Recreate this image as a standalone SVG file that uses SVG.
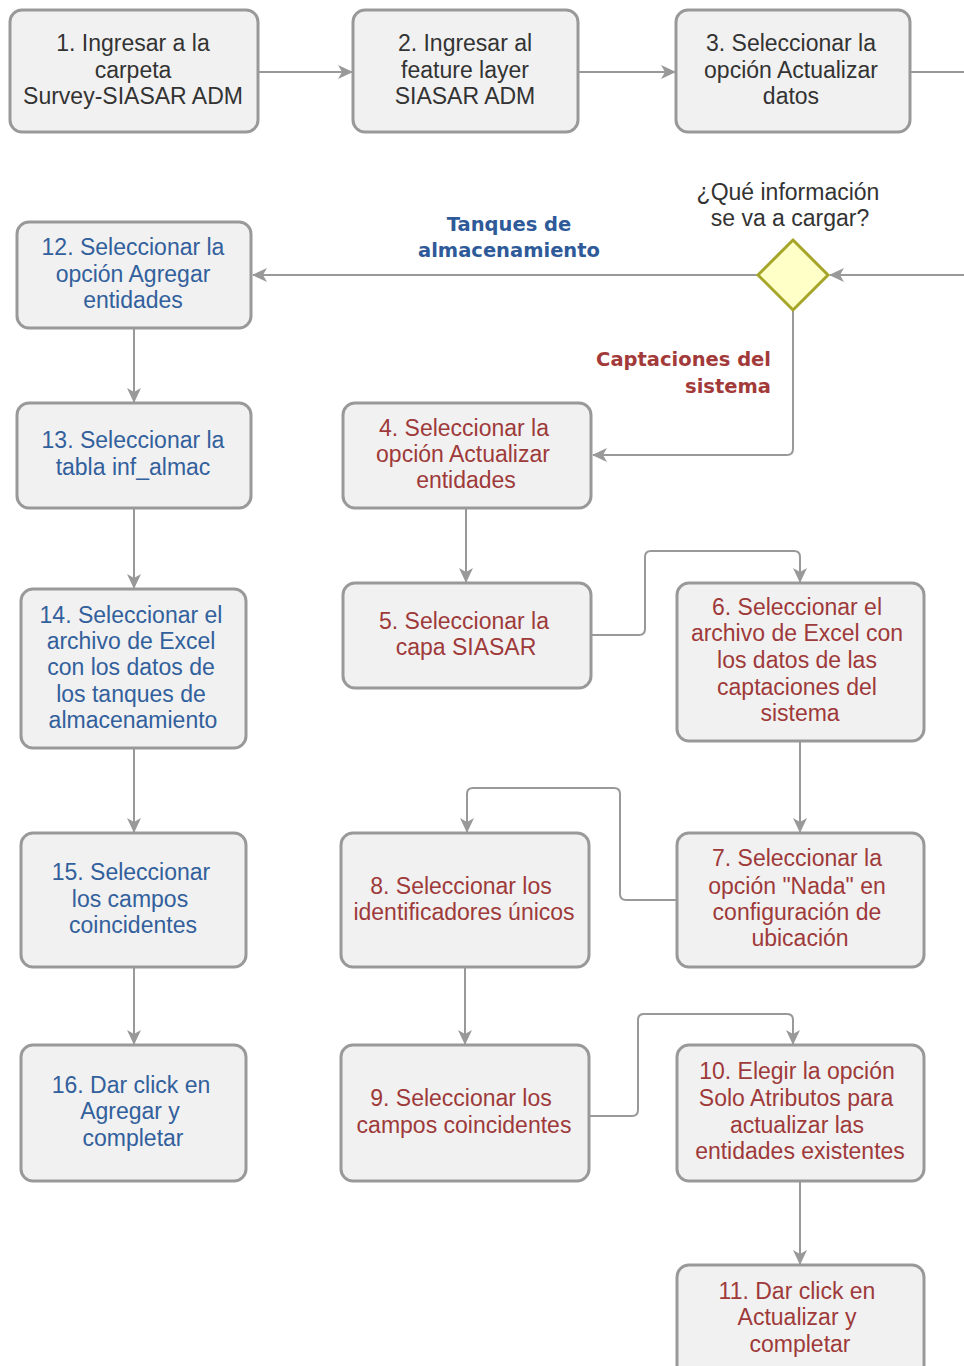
<svg xmlns="http://www.w3.org/2000/svg" width="964" height="1366" viewBox="0 0 964 1366">
<defs>
<marker id="ah" markerWidth="16" markerHeight="16" refX="14" refY="8" orient="auto" markerUnits="userSpaceOnUse">
<path d="M0,1 L15,8 L0,15 L4,8 Z" fill="#999"/>
</marker>
<style>
.box{fill:#f1f1f1;stroke:#999;stroke-width:3}
.t{font-family:"Liberation Sans",Arial,sans-serif;font-size:23px;text-anchor:middle}
.k{fill:#333}
.b{fill:#32609c}
.r{fill:#9e3a3a}
.lb{font-family:"DejaVu Sans",Verdana,sans-serif;font-size:19.5px;font-weight:bold}
.c{fill:none;stroke:#999;stroke-width:2;marker-end:url(#ah)}
.cn{fill:none;stroke:#999;stroke-width:2}
</style>
</defs>
<rect width="964" height="1366" fill="#fff"/>
<g id="connectors">
<path class="c" d="M258,72 H352"/>
<path class="c" d="M578,72 H675"/>
<path class="cn" d="M910,72 H964"/>
<path class="c" d="M964,275 H830"/>
<path class="c" d="M757,275 H253"/>
<path class="c" d="M793,310 V449 Q793,455 787,455 H593"/>
<path class="c" d="M134,328 V402"/>
<path class="c" d="M134,508 V588"/>
<path class="c" d="M134,748 V832"/>
<path class="c" d="M134,967 V1044"/>
<path class="c" d="M466,508 V582"/>
<path class="c" d="M591,635 H639 Q645,635 645,629 V557 Q645,551 651,551 H794 Q800,551 800,557 V582"/>
<path class="c" d="M800,741 V832"/>
<path class="c" d="M677,900 H626 Q620,900 620,894 V794 Q620,788 614,788 H473 Q467,788 467,794 V832"/>
<path class="c" d="M465,967 V1044"/>
<path class="c" d="M589,1116 H632 Q638,1116 638,1110 V1020 Q638,1014 644,1014 H787 Q793,1014 793,1020 V1044"/>
<path class="c" d="M800,1181 V1264"/>
<text class="lb" x="509" y="231" text-anchor="middle" fill="#2e5a99">Tanques de</text>
<text class="lb" x="509" y="257" text-anchor="middle" fill="#2e5a99">almacenamiento</text>
<text class="lb" x="771" y="366" text-anchor="end" fill="#a33a3a">Captaciones del</text>
<text class="lb" x="771" y="393" text-anchor="end" fill="#a33a3a">sistema</text>
</g>
<g id="n1"><rect class="box" x="10" y="10" width="248" height="122" rx="12"/>
<text class="t k" x="133" y="51">1. Ingresar a la</text><text class="t k" x="133" y="78">carpeta</text><text class="t k" x="133" y="104">Survey-SIASAR ADM</text></g>
<g id="n2"><rect class="box" x="353" y="10" width="225" height="122" rx="12"/>
<text class="t k" x="465" y="51">2. Ingresar al</text><text class="t k" x="465" y="78">feature layer</text><text class="t k" x="465" y="104">SIASAR ADM</text></g>
<g id="n3"><rect class="box" x="676" y="10" width="234" height="122" rx="12"/>
<text class="t k" x="791" y="51">3. Seleccionar la</text><text class="t k" x="791" y="78">opción Actualizar</text><text class="t k" x="791" y="104">datos</text></g>
<g id="decision"><path d="M793,240 L828,275 L793,310 L758,275 Z" fill="#ffffc8" stroke="#a5a52a" stroke-width="3"/>
<text class="t k" x="788" y="200">¿Qué información</text><text class="t k" x="790" y="226">se va a cargar?</text></g>
<g id="n12"><rect class="box" x="17" y="222" width="234" height="106" rx="12"/>
<text class="t b" x="133" y="255">12. Seleccionar la</text><text class="t b" x="133" y="282">opción Agregar</text><text class="t b" x="133" y="308">entidades</text></g>
<g id="n13"><rect class="box" x="17" y="403" width="234" height="105" rx="12"/>
<text class="t b" x="133" y="448">13. Seleccionar la</text><text class="t b" x="133" y="475">tabla inf_almac</text></g>
<g id="n14"><rect class="box" x="21" y="589" width="225" height="159" rx="12"/>
<text class="t b" x="131" y="623">14. Seleccionar el</text><text class="t b" x="131" y="649">archivo de Excel</text><text class="t b" x="131" y="675">con los datos de</text><text class="t b" x="131" y="702">los tanques de</text><text class="t b" x="133" y="728">almacenamiento</text></g>
<g id="n15"><rect class="box" x="21" y="833" width="225" height="134" rx="12"/>
<text class="t b" x="131" y="880">15. Seleccionar</text><text class="t b" x="130" y="907">los campos</text><text class="t b" x="133" y="933">coincidentes</text></g>
<g id="n16"><rect class="box" x="21" y="1045" width="225" height="136" rx="12"/>
<text class="t b" x="131" y="1093">16. Dar click en</text><text class="t b" x="130" y="1119">Agregar y</text><text class="t b" x="133" y="1146">completar</text></g>
<g id="n4"><rect class="box" x="343" y="403" width="248" height="105" rx="12"/>
<text class="t r" x="464" y="436">4. Seleccionar la</text><text class="t r" x="463" y="462">opción Actualizar</text><text class="t r" x="466" y="488">entidades</text></g>
<g id="n5"><rect class="box" x="343" y="583" width="248" height="105" rx="12"/>
<text class="t r" x="464" y="629">5. Seleccionar la</text><text class="t r" x="466" y="655">capa SIASAR</text></g>
<g id="n6"><rect class="box" x="677" y="583" width="247" height="158" rx="12"/>
<text class="t r" x="797" y="615">6. Seleccionar el</text><text class="t r" x="797" y="641">archivo de Excel con</text><text class="t r" x="797" y="668">los datos de las</text><text class="t r" x="797" y="695">captaciones del</text><text class="t r" x="800" y="721">sistema</text></g>
<g id="n7"><rect class="box" x="677" y="833" width="247" height="134" rx="12"/>
<text class="t r" x="797" y="866">7. Seleccionar la</text><text class="t r" x="797" y="894">opción "Nada" en</text><text class="t r" x="797" y="920">configuración de</text><text class="t r" x="800" y="946">ubicación</text></g>
<g id="n8"><rect class="box" x="341" y="833" width="248" height="134" rx="12"/>
<text class="t r" x="461" y="894">8. Seleccionar los</text><text class="t r" x="464" y="920">identificadores únicos</text></g>
<g id="n9"><rect class="box" x="341" y="1045" width="248" height="136" rx="12"/>
<text class="t r" x="461" y="1106">9. Seleccionar los</text><text class="t r" x="464" y="1133">campos coincidentes</text></g>
<g id="n10"><rect class="box" x="677" y="1045" width="247" height="136" rx="12"/>
<text class="t r" x="797" y="1079">10. Elegir la opción</text><text class="t r" x="796" y="1106">Solo Atributos para</text><text class="t r" x="797" y="1133">actualizar las</text><text class="t r" x="800" y="1159">entidades existentes</text></g>
<g id="n11"><rect class="box" x="677" y="1265" width="247" height="120" rx="12"/>
<text class="t r" x="797" y="1299">11. Dar click en</text><text class="t r" x="797" y="1325">Actualizar y</text><text class="t r" x="800" y="1352">completar</text></g>
</svg>
